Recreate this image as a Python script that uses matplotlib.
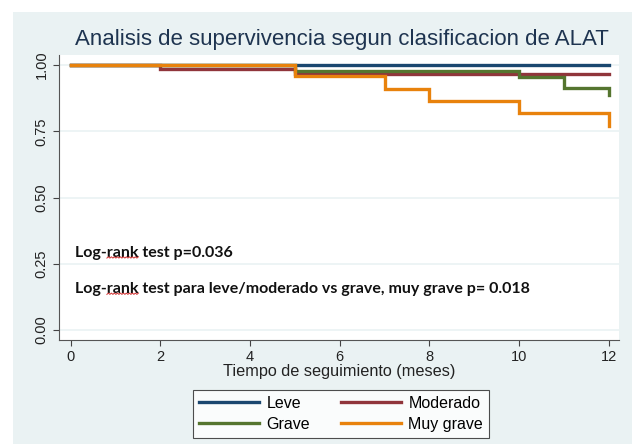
import matplotlib
matplotlib.use("Agg")
import matplotlib.pyplot as plt
from matplotlib.patches import Rectangle
from matplotlib.lines import Line2D
import numpy as np

# ---- datos (curvas Kaplan-Meier) ----
grupos = ["Leve", "Moderado", "Grave", "Muy grave"]
t_leve = [0, 12]
s_leve = [1.0, 1.0]
t_moderado = [0, 2, 5, 12]
s_moderado = [1.0, 0.985, 0.965, 0.965]
t_grave = [0, 5, 10, 11, 12, 12]
s_grave = [1.0, 0.978, 0.956, 0.914, 0.914, 0.887]
t_muygrave = [0, 5, 7, 8, 10, 12, 12]
s_muygrave = [1.0, 0.958, 0.909, 0.866, 0.820, 0.820, 0.770]

colores = ["#1A476F", "#90353B", "#55752F", "#E8820C"]
xticks = [0, 2, 4, 6, 8, 10, 12]
yticks = [0.0, 0.25, 0.50, 0.75, 1.0]
texto1 = "Log-rank test p=0.036"
texto2 = "Log-rank test para leve/moderado vs grave, muy grave p= 0.018"

BG = "#EAF2F3"
plt.rcParams["font.family"] = ["Liberation Sans", "DejaVu Sans"]

fig = plt.figure(figsize=(6.39, 4.44), dpi=100, facecolor="white")
fig.patches.append(Rectangle((13 / 639, 0), 619 / 639, 1 - 12 / 444,
                             transform=fig.transFigure, facecolor=BG,
                             edgecolor="none", zorder=-10))

ax = fig.add_axes([59 / 639, 1 - 340 / 444, 560 / 639, 285 / 444])
ax.set_facecolor("white")

series = [(t_leve, s_leve), (t_moderado, s_moderado),
          (t_grave, s_grave), (t_muygrave, s_muygrave)]
lineas = []
for (t, s), c, g in zip(series, colores, grupos):
    ln, = ax.step(t, s, where="post", color=c, lw=2.4, label=g,
                  solid_joinstyle="miter")
    lineas.append(ln)

ax.set_xlim(-0.26, 12.23)
ax.set_ylim(-0.038, 1.038)
ax.set_xticks(xticks)
ax.set_yticks(yticks)
ax.set_yticklabels([f"{v:.2f}" for v in yticks], rotation=90, va="center")
ax.tick_params(axis="both", labelsize=10.5, colors="#444444", length=4,
               labelcolor="#222222")
ax.grid(axis="y", color=BG, lw=1.2)
ax.set_axisbelow(True)
for sp in ["top", "right"]:
    ax.spines[sp].set_visible(False)
for sp in ["left", "bottom"]:
    ax.spines[sp].set_color("#555555")

ax.set_xlabel("Tiempo de seguimiento (meses)", fontsize=11.7, labelpad=0,
              color="#222222")
fig.text(0.535, 1 - 40 / 444, "Analisis de supervivencia segun clasificacion de ALAT",
         ha="center", va="center", fontsize=16, color="#1E3450")

fuente = dict(family=["Lato", "DejaVu Sans"], fontweight="bold",
              fontsize=11.5, color="#111111")
txts = [ax.text(0.1, 0.292, texto1, va="center", **fuente),
        ax.text(0.1, 0.155, texto2, va="center", **fuente)]

# subrayado ondulado rojo bajo "rank" (corrector ortografico)
fig.canvas.draw()
r = fig.canvas.get_renderer()
for tx in txts:
    bb = tx.get_window_extent(r)
    tmp = ax.text(0, 0, "Log-", **fuente)
    w0 = tmp.get_window_extent(r).width
    tmp.set_text("Log-rank")
    w1 = tmp.get_window_extent(r).width
    tmp.remove()
    xs = np.arange(bb.x0 + w0, bb.x0 + w1, 1.5)
    ys = bb.y0 + 1.5 + np.where(np.arange(len(xs)) % 2 == 0, 0.0, 1.3)
    fig.add_artist(Line2D(xs, ys, transform=None, color="#D03030", lw=0.7))

orden = [0, 2, 1, 3]
leg = fig.legend([lineas[i] for i in orden], [grupos[i] for i in orden],
                 loc="center", bbox_to_anchor=(341 / 639, 1 - 414 / 444),
                 ncol=2, fontsize=11.5, frameon=True, fancybox=False,
                 edgecolor="#222222", handlelength=3.8, columnspacing=1.9,
                 handletextpad=0.45, labelspacing=0.38, borderpad=0.35)
leg.get_frame().set_linewidth(0.8)

fig.savefig("out.png", dpi=100, facecolor="white")
